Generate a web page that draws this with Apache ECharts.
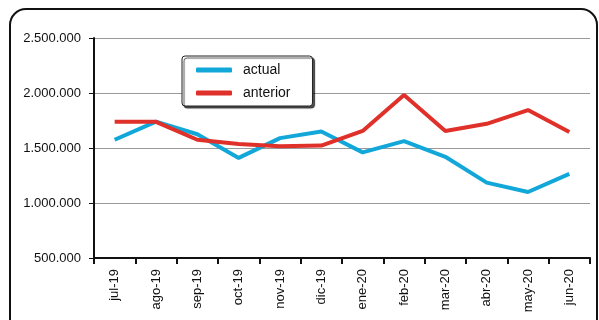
<!DOCTYPE html>
<html>
<head>
<meta charset="UTF-8">
<title>actual vs anterior</title>
<script src="https://cdn.jsdelivr.net/npm/echarts@6/dist/echarts.min.js"></script>
<style>
  body { margin: 0; padding: 0; background: #fff; }
  #chart { width: 599px; height: 320px; }
</style>
</head>
<body>
<div id="chart"></div>
<script>
var months = ['jul-19', 'ago-19', 'sep-19', 'oct-19', 'nov-19', 'dic-19',
              'ene-20', 'feb-20', 'mar-20', 'abr-20', 'may-20', 'jun-20'];
var actual   = [1575000, 1740000, 1625000, 1410000, 1590000, 1650000,
                1460000, 1563000, 1420000, 1185000, 1100000, 1265000];
var anterior = [1738000, 1738000, 1575000, 1536000, 1515000, 1522000,
                1655000, 1982000, 1655000, 1720000, 1845000, 1645000];

// 2.500.000 style
function miles(v) {
    return String(v).replace(/\B(?=(\d{3})+(?!\d))/g, '.');
}

var chart = echarts.init(document.getElementById('chart'));
chart.setOption({
    animation: false,
    textStyle: { fontFamily: 'Liberation Sans, Arial, sans-serif' },
    graphic: [{
        type: 'rect',
        shape: { x: 10, y: 9, width: 587, height: 330, r: 16 },
        style: { fill: 'none', stroke: '#111', lineWidth: 2 }
    }],
    grid: { left: 94, right: 9, top: 38, bottom: 62 },
    legend: {
        orient: 'vertical',
        left: 182, top: 56,
        data: ['actual', 'anterior'],
        icon: 'roundRect',
        itemWidth: 36, itemHeight: 5,
        itemGap: 9,
        padding: [7, 22, 6, 14],
        borderColor: '#222', borderWidth: 1, borderRadius: 3,
        backgroundColor: '#fff',
        shadowColor: 'rgba(0,0,0,0.7)', shadowOffsetX: 2, shadowOffsetY: 2, shadowBlur: 1,
        textStyle: { fontSize: 14, color: '#111', padding: [0, 0, 0, 6] }
    },
    xAxis: {
        type: 'category',
        data: months,
        boundaryGap: true,
        axisLine: { lineStyle: { color: '#111', width: 2 } },
        axisTick: { show: true, length: 6, lineStyle: { color: '#111', width: 2 } },
        axisLabel: { rotate: 90, color: '#111', fontSize: 13, margin: 11 }
    },
    yAxis: {
        type: 'value',
        min: 500000, max: 2500000, interval: 500000,
        axisLine: { show: true, lineStyle: { color: '#111', width: 2 } },
        axisTick: { show: true, length: 5, lineStyle: { color: '#111', width: 1 } },
        splitLine: { lineStyle: { color: '#999', width: 1 } },
        axisLabel: { color: '#111', fontSize: 13, margin: 13, formatter: miles }
    },
    series: [{
        name: 'actual',
        type: 'line',
        data: actual,
        symbol: 'none',
        itemStyle: { color: '#12a7d9' },
        lineStyle: { color: '#12a7d9', width: 4 }
    }, {
        name: 'anterior',
        type: 'line',
        data: anterior,
        symbol: 'none',
        itemStyle: { color: '#e0302a' },
        lineStyle: { color: '#e0302a', width: 4 }
    }]
});
</script>
</body>
</html>
